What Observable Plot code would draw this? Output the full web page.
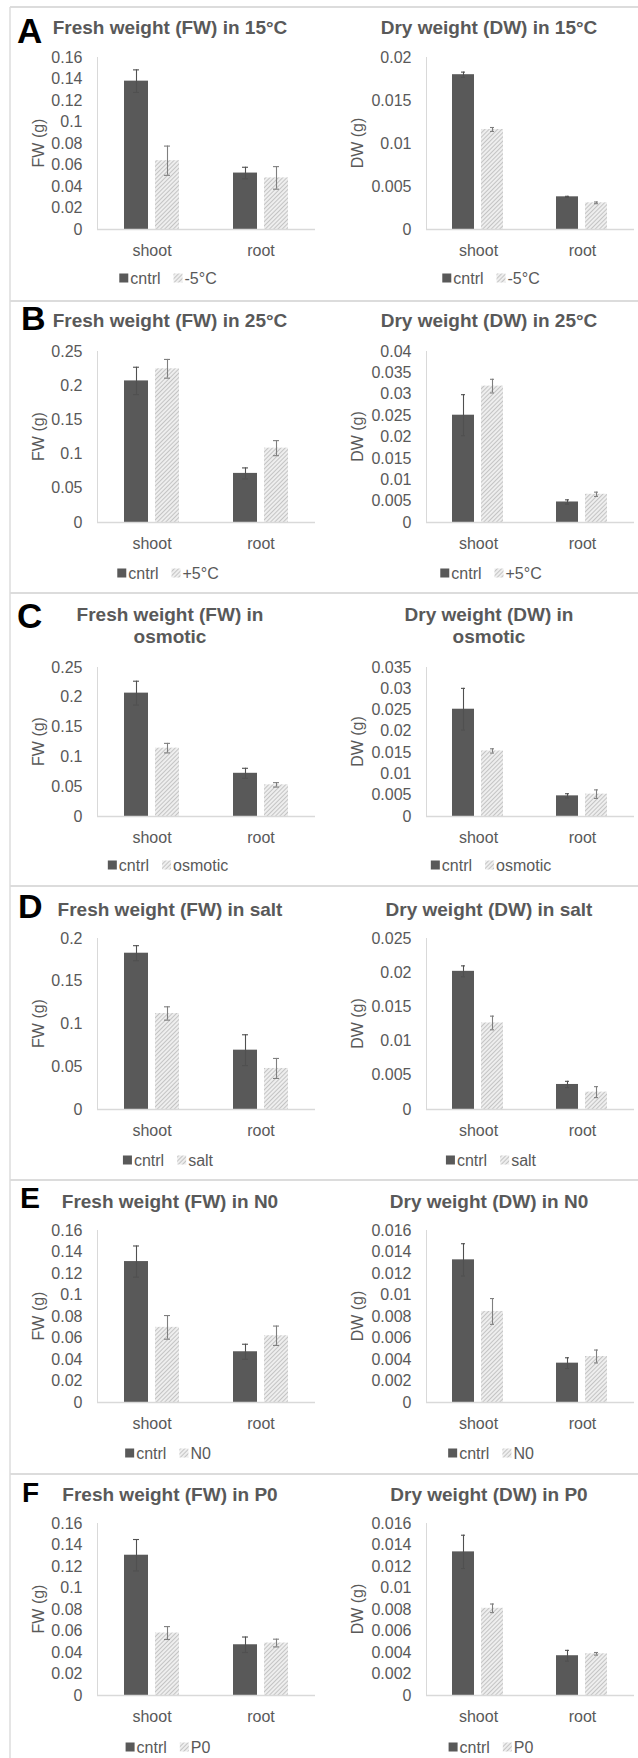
<!DOCTYPE html>
<html><head><meta charset="utf-8">
<script src="https://cdn.jsdelivr.net/npm/d3@7"></script>
<script src="https://cdn.jsdelivr.net/npm/@observablehq/plot@0.6"></script>
<style>
body{margin:0;background:#fff;}
#page{position:relative;width:638px;height:1758px;overflow:hidden;font-family:"Liberation Sans",Arial,sans-serif;}
#overlay{position:absolute;left:0;top:0;pointer-events:none;z-index:2;}
</style></head><body>
<svg width="0" height="0" style="position:absolute">
 <defs>
  <pattern id="hatch" patternUnits="userSpaceOnUse" width="3" height="3" patternTransform="rotate(45)">
    <rect width="3" height="3" fill="#f3f3f3"/>
    <line x1="1.5" y1="0" x2="1.5" y2="3" stroke="#c4c4c4" stroke-width="1.2"/>
  </pattern>
 </defs>
</svg>
<div id="page"></div>
<script>
// ---------------- data ----------------
const categories = ["shoot", "root"];
const panelLetters = ["A", "B", "C", "D", "E", "F"];
const treatments = ["-5°C", "+5°C", "osmotic", "salt", "N0", "P0"];
const fwTitles = [["Fresh weight (FW) in 15°C"], ["Fresh weight (FW) in 25°C"], ["Fresh weight (FW) in", "osmotic"],
  ["Fresh weight (FW) in salt"], ["Fresh weight (FW) in N0"], ["Fresh weight (FW) in P0"]];
const dwTitles = [["Dry weight (DW) in 15°C"], ["Dry weight (DW) in 25°C"], ["Dry weight (DW) in", "osmotic"],
  ["Dry weight (DW) in salt"], ["Dry weight (DW) in N0"], ["Dry weight (DW) in P0"]];
const fwLabel = "FW (g)";
const dwLabel = "DW (g)";
const controlName = "cntrl";

// values per row: [shoot, root]
const fwCntrl    = [[0.138, 0.0525], [0.207, 0.0718], [0.207, 0.0725], [0.1828, 0.0694], [0.1311, 0.0472], [0.1305, 0.0472]];
const fwCntrlErr = [[0.0105, 0.0054], [0.020, 0.008], [0.020, 0.0084], [0.0088, 0.018], [0.0145, 0.007], [0.0146, 0.0072]];
const fwTreat    = [[0.064, 0.048], [0.2247, 0.1087], [0.1147, 0.0531], [0.1123, 0.048], [0.0699, 0.0621], [0.0581, 0.0488]];
const fwTreatErr = [[0.0136, 0.0105], [0.0137, 0.011], [0.008, 0.0037], [0.0078, 0.0117], [0.011, 0.009], [0.006, 0.0036]];

const dwCntrl    = [[0.0180, 0.0038], [0.0251, 0.0048], [0.0252, 0.00485], [0.0202, 0.00366], [0.01327, 0.00366], [0.01336, 0.0037]];
const dwCntrlErr = [[0.0003, 0.00006], [0.0048, 0.0005], [0.0049, 0.0005], [0.0008, 0.00046], [0.0015, 0.0005], [0.00155, 0.0005]];
const dwTreat    = [[0.01163, 0.0031], [0.0319, 0.0066], [0.0154, 0.00525], [0.01265, 0.00254], [0.00847, 0.00428], [0.00811, 0.00388]];
const dwTreatErr = [[0.00023, 0.0001], [0.0016, 0.0005], [0.0005, 0.001], [0.001, 0.0008], [0.0012, 0.0006], [0.0004, 0.00012]];

const fwTicks = [
  [0, 0.02, 0.04, 0.06, 0.08, 0.1, 0.12, 0.14, 0.16],
  [0, 0.05, 0.1, 0.15, 0.2, 0.25],
  [0, 0.05, 0.1, 0.15, 0.2, 0.25],
  [0, 0.05, 0.1, 0.15, 0.2],
  [0, 0.02, 0.04, 0.06, 0.08, 0.1, 0.12, 0.14, 0.16],
  [0, 0.02, 0.04, 0.06, 0.08, 0.1, 0.12, 0.14, 0.16]];
const dwTicks = [
  [0, 0.005, 0.01, 0.015, 0.02],
  [0, 0.005, 0.01, 0.015, 0.02, 0.025, 0.03, 0.035, 0.04],
  [0, 0.005, 0.01, 0.015, 0.02, 0.025, 0.03, 0.035],
  [0, 0.005, 0.01, 0.015, 0.02, 0.025],
  [0, 0.002, 0.004, 0.006, 0.008, 0.01, 0.012, 0.014, 0.016],
  [0, 0.002, 0.004, 0.006, 0.008, 0.01, 0.012, 0.014, 0.016]];

// ---------------- layout ----------------
const layout = [
  {top: 7,    plotTop: 57,   plotBottom: 229,  title: [34],       letter: {x: 17, base: 43,   size: 35}, legend: 278},
  {top: 301,  plotTop: 351,  plotBottom: 522,  title: [327],      letter: {x: 21, base: 330,  size: 34}, legend: 573},
  {top: 593,  plotTop: 667,  plotBottom: 816,  title: [621, 643], letter: {x: 17, base: 628,  size: 35}, legend: 865},
  {top: 886,  plotTop: 938,  plotBottom: 1109, title: [916],      letter: {x: 18, base: 918,  size: 34}, legend: 1160},
  {top: 1180, plotTop: 1230, plotBottom: 1402, title: [1208],     letter: {x: 20, base: 1208, size: 30}, legend: 1453},
  {top: 1474, plotTop: 1523, plotBottom: 1695, title: [1501],     letter: {x: 22, base: 1502, size: 28}, legend: 1747}
];
const sides = [
  {left: 0,   width: 319, marginLeft: 96,  titleX: 170, ylabelX: 38,  legendX: 168},
  {left: 319, width: 319, marginLeft: 107, titleX: 489, ylabelX: 357, legendX: 491}
];
const TEXT = "#595959";
const FONT = "Liberation Sans, Arial, sans-serif";
const fmt = d => String(+d.toFixed(4));

const page = document.getElementById("page");
const overlay = d3.select(page).append("svg").attr("id", "overlay")
  .attr("width", 638).attr("height", 1758).attr("font-family", FONT);

// frame lines
overlay.append("line").attr("x1", 10).attr("x2", 10).attr("y1", layout[0].top).attr("y2", 1758)
  .attr("stroke", "#dcdcdc").attr("stroke-width", 1.5);
layout.forEach(L => {
  overlay.append("line").attr("x1", 10).attr("x2", 638).attr("y1", L.top).attr("y2", L.top)
    .attr("stroke", "#dcdcdc").attr("stroke-width", 2);
});

function makePanel(r, s) {
  const L = layout[r], S = sides[s];
  const cntrl = s === 0 ? fwCntrl[r] : dwCntrl[r];
  const cErr = s === 0 ? fwCntrlErr[r] : dwCntrlErr[r];
  const treat = s === 0 ? fwTreat[r] : dwTreat[r];
  const tErr = s === 0 ? fwTreatErr[r] : dwTreatErr[r];
  const ticks = s === 0 ? fwTicks[r] : dwTicks[r];
  const data = [];
  categories.forEach((c, i) => {
    data.push({cat: c, series: controlName, v: cntrl[i], e: cErr[i]});
    data.push({cat: c, series: treatments[r], v: treat[i], e: tErr[i]});
  });
  const seriesDomain = [controlName, treatments[r]];
  const mt = 10, mb = 40;
  const height = (L.plotBottom - L.plotTop) + mt + mb;
  const isC = d => d.series === controlName;
  const errStroke = d => isC(d) ? "#505050" : "#7f7f7f";
  const plot = Plot.plot({
    width: S.width, height,
    marginTop: mt, marginBottom: mb, marginLeft: S.marginLeft, marginRight: 4,
    style: {fontFamily: FONT, fontSize: "16px", color: TEXT, background: "transparent", overflow: "visible"},
    fx: {domain: categories, padding: 0, axis: "bottom", tickSize: 0, tickPadding: 15, label: null},
    x: {domain: seriesDomain, paddingInner: 0.23, paddingOuter: 0.86, axis: null},
    y: {domain: [0, ticks[ticks.length - 1]], ticks: ticks, tickFormat: fmt, tickSize: 0, tickPadding: 15, label: null},
    marks: [
      Plot.frame({anchor: "left", stroke: "#d9d9d9", facetAnchor: "left"}),
      Plot.barY(data.filter(isC), {fx: "cat", x: "series", y: "v", fill: "#595959"}),
      Plot.barY(data.filter(d => !isC(d)), {fx: "cat", x: "series", y: "v", fill: "url(#hatch)"}),
      Plot.ruleY([0], {stroke: "#d9d9d9", strokeWidth: 1.3}),
      Plot.ruleX(data, {fx: "cat", x: "series", y1: d => d.v - d.e, y2: d => d.v + d.e, stroke: errStroke, strokeWidth: 1.1}),
      Plot.tickY(data, {fx: "cat", x: "series", y: d => d.v - d.e, stroke: errStroke, strokeWidth: 1.1, insetLeft: 9, insetRight: 9}),
      Plot.tickY(data, {fx: "cat", x: "series", y: d => d.v + d.e, stroke: errStroke, strokeWidth: 1.1, insetLeft: 9, insetRight: 9})
    ]
  });
  plot.style.position = "absolute";
  plot.style.left = S.left + "px";
  plot.style.top = (L.plotTop - mt) + "px";
  plot.style.zIndex = 1;
  page.appendChild(plot);

  // title
  const titles = s === 0 ? fwTitles[r] : dwTitles[r];
  titles.forEach((t, k) => {
    overlay.append("text").attr("x", S.titleX).attr("y", L.title[k]).attr("text-anchor", "middle")
      .attr("font-size", 19).attr("font-weight", "bold").attr("fill", TEXT).text(t);
  });
  // y label
  overlay.append("text")
    .attr("transform", `translate(${S.ylabelX},${(L.plotTop + L.plotBottom) / 2}) rotate(-90)`)
    .attr("text-anchor", "middle").attr("dy", "0.35em")
    .attr("font-size", 16).attr("fill", TEXT).text(s === 0 ? fwLabel : dwLabel);
  // legend
  const g = overlay.append("g");
  let x = 0;
  const items = [[controlName, "#595959"], [treatments[r], "url(#hatch)"]];
  items.forEach(([name, fill], k) => {
    if (k > 0) x += 13;
    g.append("rect").attr("x", x).attr("y", L.legend - 4.5).attr("width", 9).attr("height", 9).attr("fill", fill);
    x += 11;
    const t = g.append("text").attr("x", x).attr("y", L.legend + 5.7).attr("font-size", 16).attr("fill", TEXT).text(name);
    x += t.node().getComputedTextLength();
  });
  g.attr("transform", `translate(${S.legendX - x / 2},0)`);
}

for (let r = 0; r < 6; r++) {
  // panel letter
  const Lt = layout[r].letter;
  overlay.append("text").attr("x", Lt.x).attr("y", Lt.base).attr("font-size", Lt.size)
    .attr("font-weight", "bold").attr("fill", "#000").text(panelLetters[r]);
  makePanel(r, 0);
  makePanel(r, 1);
}
</script>
</body></html>
